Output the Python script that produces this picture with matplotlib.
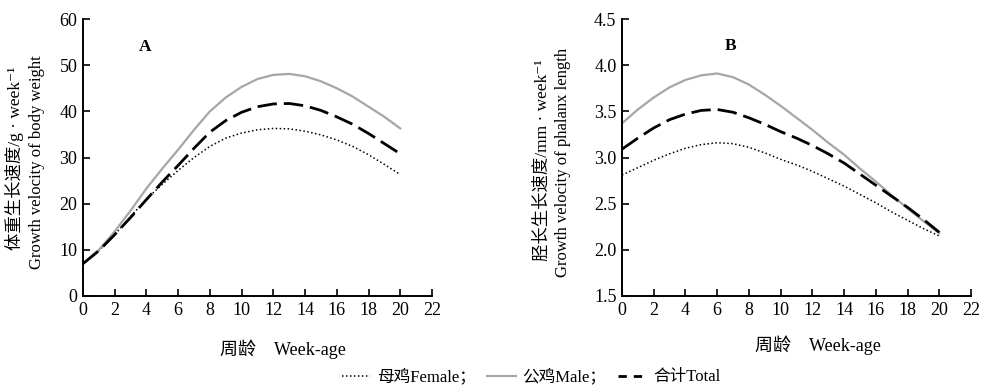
import matplotlib
matplotlib.use("Agg")
import matplotlib.pyplot as plt
from matplotlib.lines import Line2D

plt.rcParams['font.family'] = ['Liberation Serif', 'Noto Sans CJK SC', 'DejaVu Sans']

weeks = list(range(0, 21))

# Panel A: body weight growth velocity (g/week)
a_male = [7.0, 10.0, 14.0, 18.5, 23.3, 27.6, 31.7, 36.0, 40.0, 43.0, 45.3,
          47.0, 47.9, 48.1, 47.6, 46.5, 45.0, 43.2, 41.0, 38.8, 36.3]
a_total = [7.0, 9.8, 13.3, 17.0, 20.9, 24.7, 28.3, 32.0, 35.5, 38.0, 39.8,
           41.0, 41.6, 41.7, 41.2, 40.2, 38.8, 37.2, 35.2, 33.0, 30.8]
a_female = [7.0, 9.8, 13.3, 17.2, 21.0, 24.2, 27.2, 30.0, 32.4, 34.2, 35.3,
            36.0, 36.3, 36.2, 35.7, 34.9, 33.8, 32.4, 30.6, 28.5, 26.3]

# Panel B: phalanx length growth velocity (mm/week)
b_male = [3.37, 3.52, 3.65, 3.76, 3.84, 3.89, 3.91, 3.87, 3.79, 3.68, 3.56,
          3.43, 3.30, 3.16, 3.03, 2.88, 2.74, 2.59, 2.45, 2.31, 2.18]
b_total = [3.09, 3.21, 3.32, 3.41, 3.47, 3.51, 3.52, 3.49, 3.43, 3.36, 3.28,
           3.21, 3.13, 3.04, 2.94, 2.82, 2.70, 2.58, 2.46, 2.33, 2.19]
b_female = [2.81, 2.89, 2.97, 3.04, 3.10, 3.14, 3.16, 3.15, 3.11, 3.05, 2.98,
            2.92, 2.85, 2.77, 2.69, 2.60, 2.51, 2.41, 2.32, 2.23, 2.15]

xticks = list(range(0, 23, 2))
a_yticks = [0, 10, 20, 30, 40, 50, 60]
b_yticks = [1.5, 2.0, 2.5, 3.0, 3.5, 4.0, 4.5]

labels = ['母鸡Female；', '公鸡Male；', '合计Total']

W, H = 983, 387
fig = plt.figure(figsize=(W / 100, H / 100), dpi=100)

def axrect(l, t, r, b):
    return [l / W, 1 - b / H, (r - l) / W, (b - t) / H]

axA = fig.add_axes(axrect(83, 19, 432, 296))
axB = fig.add_axes(axrect(622, 19, 971, 296))

def style(ax, yticks, fmt):
    for s in ['top', 'right']:
        ax.spines[s].set_visible(False)
    for s in ['left', 'bottom']:
        ax.spines[s].set_linewidth(1.4)
    ax.set_xlim(0, 22)
    ax.set_ylim(yticks[0], yticks[-1])
    ax.set_xticks(xticks)
    ax.set_yticks(yticks)
    ax.set_yticklabels([fmt.format(v) for v in yticks])
    ax.tick_params(direction='in', length=5, width=1.2, labelsize=13, pad=4)

def draw(ax, male, total, female):
    ax.plot(weeks, female, color='black', lw=1.1, linestyle=(0, (1, 1.6)))
    ax.plot(weeks, male, color='#a6a6a6', lw=1.6, linestyle='-')
    ax.plot(weeks, total, color='black', lw=2.0, linestyle=(0, (7, 2.5)))

draw(axA, a_male, a_total, a_female)
draw(axB, b_male, b_total, b_female)
style(axA, a_yticks, '{:.0f}')
style(axB, b_yticks, '{:.1f}')

fig.text(145 / W, 1 - 47 / H, 'A', fontsize=12.5,
         fontweight='bold', ha='center', va='center')
fig.text(731 / W, 1 - 46 / H, 'B', fontsize=12.5,
         fontweight='bold', ha='center', va='center')

# y labels (two lines each)
fig.text(15 / W, 1 - 158 / H, '体重生长速度/g · week⁻¹', rotation=90,
         fontsize=12.5, ha='center', va='center')
fig.text(37 / W, 1 - 162 / H, 'Growth velocity of body weight', rotation=90,
         fontsize=12, ha='center', va='center')
fig.text(543 / W, 1 - 160 / H, '胫长生长速度/mm · week⁻¹', rotation=90,
         fontsize=12.5, ha='center', va='center')
fig.text(563 / W, 1 - 162 / H, 'Growth velocity of phalanx length', rotation=90,
         fontsize=12, ha='center', va='center')

# x labels
fig.text(283 / W, 1 - 349 / H, '周龄　Week-age', fontsize=13,
         ha='center', va='center')
fig.text(818 / W, 1 - 345 / H, '周龄　Week-age', fontsize=13,
         ha='center', va='center')

handles = [
    Line2D([], [], color='black', lw=1.1, linestyle=(0, (1, 1.6))),
    Line2D([], [], color='#a6a6a6', lw=1.6),
    Line2D([], [], color='black', lw=2.0, linestyle=(0, (3, 2.5))),
]
fig.legend(handles, labels, loc='center', bbox_to_anchor=(531 / W, 1 - 377 / H),
           ncol=3, frameon=False, fontsize=12, handlelength=1.7,
           handletextpad=0.4, columnspacing=0.7, borderpad=0)

fig.savefig('out.png', dpi=100)
